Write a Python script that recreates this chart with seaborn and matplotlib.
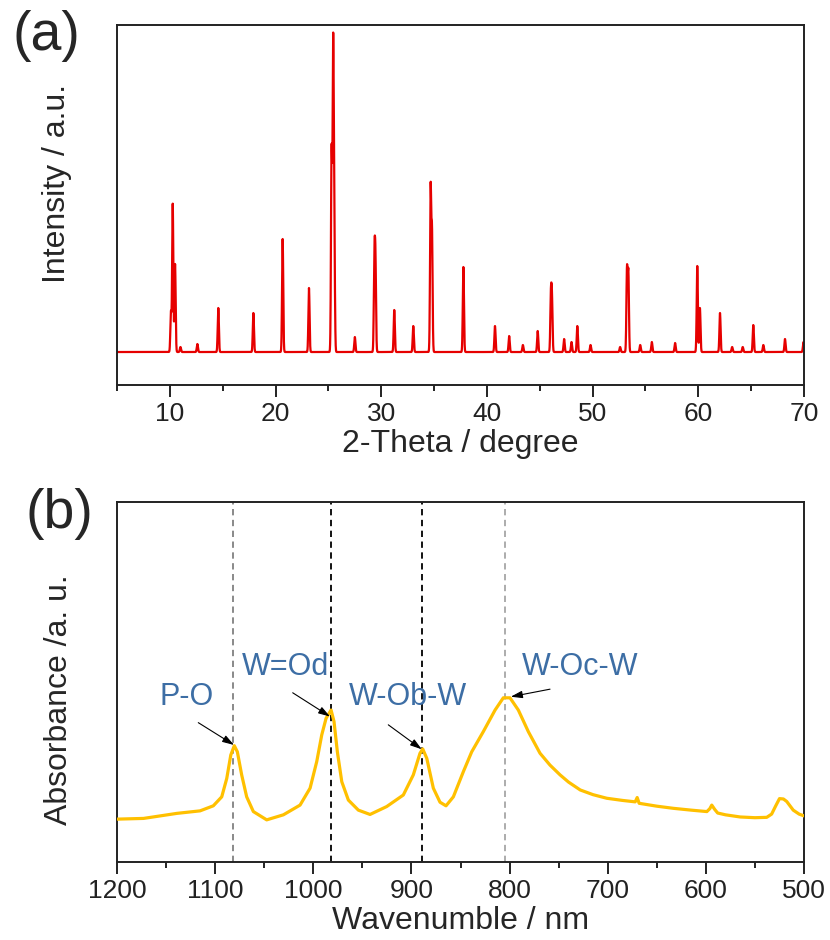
import numpy as np
import pandas as pd
import matplotlib
matplotlib.use("Agg")
import matplotlib.pyplot as plt
from matplotlib.ticker import MultipleLocator
import seaborn as sns

# ---------------- data: (a) XRD peak list ----------------
xrd_peak_pos = [10.10, 10.27, 10.49, 11.0, 12.6, 14.58, 17.9, 20.67, 23.16, 25.30, 25.45, 25.56,
                27.5, 29.35, 29.45, 31.23, 33.03, 34.67, 34.80, 37.77, 40.76, 42.1, 43.4, 44.8,
                46.05, 46.15, 47.3, 48.0, 48.55, 49.8, 52.6, 53.25, 53.38, 54.5, 55.6, 57.8,
                59.9, 60.15, 62.05, 63.2, 64.2, 65.2, 66.15, 68.2, 69.95]
xrd_peak_height = [40, 148, 88, 5, 8, 44, 39, 113, 64, 200, 300, 108,
                   15, 90, 86, 42, 26, 162, 118, 85, 26, 16, 7, 21,
                   54, 51, 13, 10, 26, 7, 5, 82, 78, 7, 10, 9,
                   86, 44, 39, 5, 5, 27, 7, 13, 10]
xrd_peak_sigma = 0.055

# ---------------- data: (b) FT-IR spectrum ----------------
ir_wavenumber = [1200, 1173, 1139, 1115.4, 1101.9, 1093.3, 1088.2, 1084.1, 1080.5, 1077.4, 1073,
                 1067.9, 1061.1, 1047.5, 1030.5, 1013.5, 1003.3, 996.5, 991.4, 987, 981.9, 978.9,
                 975.5, 971, 964.3, 954.1, 942.2, 925.2, 908.3, 898.1, 891.3, 888.5, 884.4, 877.7,
                 870.9, 864.8, 857.3, 847.1, 838.6, 826.8, 814.8, 806.4, 799.6, 791.1, 780.9, 769,
                 758.8, 748.6, 740, 728, 715, 701, 685, 672, 670, 668, 650, 633, 615, 599, 596,
                 594, 591, 588, 580, 565, 550, 538, 533, 529, 525, 521, 517.6, 511, 505, 500]
ir_absorbance = [11.9, 12.1, 13.5, 14.2, 15.6, 18.1, 23.2, 29.7, 32.3, 30.6, 24.2,
                 18.1, 14.0, 11.7, 13.1, 15.8, 20.5, 27.9, 35.3, 39.9, 42.2, 39.0,
                 30.6, 22.3, 17.2, 14.4, 13.2, 15.4, 18.6, 24.2, 30.2, 31.4, 28.8, 20.5,
                 16.6, 15.6, 18.1, 25.1, 30.6, 36.2, 42.2, 45.6, 45.6, 42.2, 36.2, 30.2,
                 26.9, 24.2, 22.2, 20.0, 18.7, 17.7, 17.1, 16.7, 17.9, 16.3, 15.5, 14.9, 14.4, 14.0, 14.8,
                 15.8, 14.6, 13.6, 13.1, 12.5, 12.3, 12.4, 13.3, 15.5, 17.6, 17.5, 16.8, 14.4, 13.3, 12.8]

band_pos = [1082, 982, 889, 805]
band_colors = ["#808080", "black", "black", "#a6a6a6"]
band_labels = ["P-O", "W=Od", "W-Ob-W", "W-Oc-W"]
label_xy = [(1128.7, 45.8), (1028.8, 54.2), (903.5, 45.8), (728.2, 54.2)]
arrow_from = [(1117.2, 38.7), (1021.0, 47.0), (923.6, 38.1), (758.8, 48.0)]
arrow_to = [(1080.8, 32.5), (983.0, 40.4), (889.5, 31.3), (798.8, 45.9)]

# ---------------- build XRD profile from peak list ----------------
two_theta = np.arange(5.0, 70.0001, 0.01)
intensity = np.zeros_like(two_theta)
for p, h in zip(xrd_peak_pos, xrd_peak_height):
    intensity += h * np.exp(-0.5 * ((two_theta - p) / xrd_peak_sigma) ** 2)
df_xrd = pd.DataFrame({"theta": two_theta, "I": intensity})
df_ir = pd.DataFrame({"w": ir_wavenumber, "A": ir_absorbance})

# ---------------- style ----------------
sns.set_style("ticks")
plt.rcParams["font.family"] = ["Liberation Sans", "DejaVu Sans"]
plt.rcParams["axes.linewidth"] = 1.4
plt.rcParams["axes.edgecolor"] = "#222222"

fig = plt.figure(figsize=(8.3, 9.4), dpi=100)
ax1 = fig.add_axes([0.141, 0.5904, 0.8277, 0.383])
ax2 = fig.add_axes([0.141, 0.083, 0.8277, 0.383])

# (a)
sns.lineplot(data=df_xrd, x="theta", y="I", ax=ax1, color="#e60000", lw=1.6)
ax1.set_xlim(5, 70)
ax1.set_ylim(-33, 327)
ax1.set_xticks(range(10, 71, 10))
ax1.xaxis.set_minor_locator(MultipleLocator(5))
ax1.set_yticks([])
ax1.set_xlabel("2-Theta / degree", fontsize=23, labelpad=2)
ax1.set_ylabel("Intensity / a.u.", fontsize=23)
ax1.yaxis.set_label_coords(-0.066, 0.56)

# (b)
for x, c in zip(band_pos, band_colors):
    ax2.axvline(x, color=c, ls=(0, (3.5, 2.5)), lw=1.3, zorder=1)
sns.lineplot(data=df_ir, x="w", y="A", ax=ax2, color="#FFC000", lw=2.3, zorder=3)
ax2.set_xlim(1200, 500)
ax2.set_ylim(0, 100)
ax2.set_xticks(range(1200, 499, -100))
ax2.xaxis.set_minor_locator(MultipleLocator(50))
ax2.set_yticks([])
ax2.set_xlabel("Wavenumble / nm", fontsize=23, labelpad=2)
ax2.set_ylabel("Absorbance /a. u.", fontsize=23)
ax2.yaxis.set_label_coords(-0.062, 0.45)

for lab, (tx, ty), a0, a1 in zip(band_labels, label_xy, arrow_from, arrow_to):
    ax2.text(tx, ty, lab, fontsize=22, color="#3d6ea5", ha="center", va="center", zorder=5)
    ax2.annotate("", xy=a1, xytext=a0,
                 arrowprops=dict(arrowstyle="-|>,head_length=0.7,head_width=0.22",
                                 color="black", lw=0.8, shrinkA=0, shrinkB=0), zorder=6)

for ax in (ax1, ax2):
    ax.tick_params(axis="x", which="major", direction="out", length=8.5, width=1.4,
                   labelsize=19, pad=4, colors="#222222")
    ax.tick_params(axis="x", which="minor", direction="out", length=4.5, width=1.4,
                   colors="#222222")
    for s in ax.spines.values():
        s.set_visible(True)

fig.text(12 / 830, 1 - 10 / 940, "(a)", fontsize=40, ha="left", va="top")
fig.text(25 / 830, 1 - 488 / 940, "(b)", fontsize=40, ha="left", va="top")

fig.savefig("out.png", dpi=100)
